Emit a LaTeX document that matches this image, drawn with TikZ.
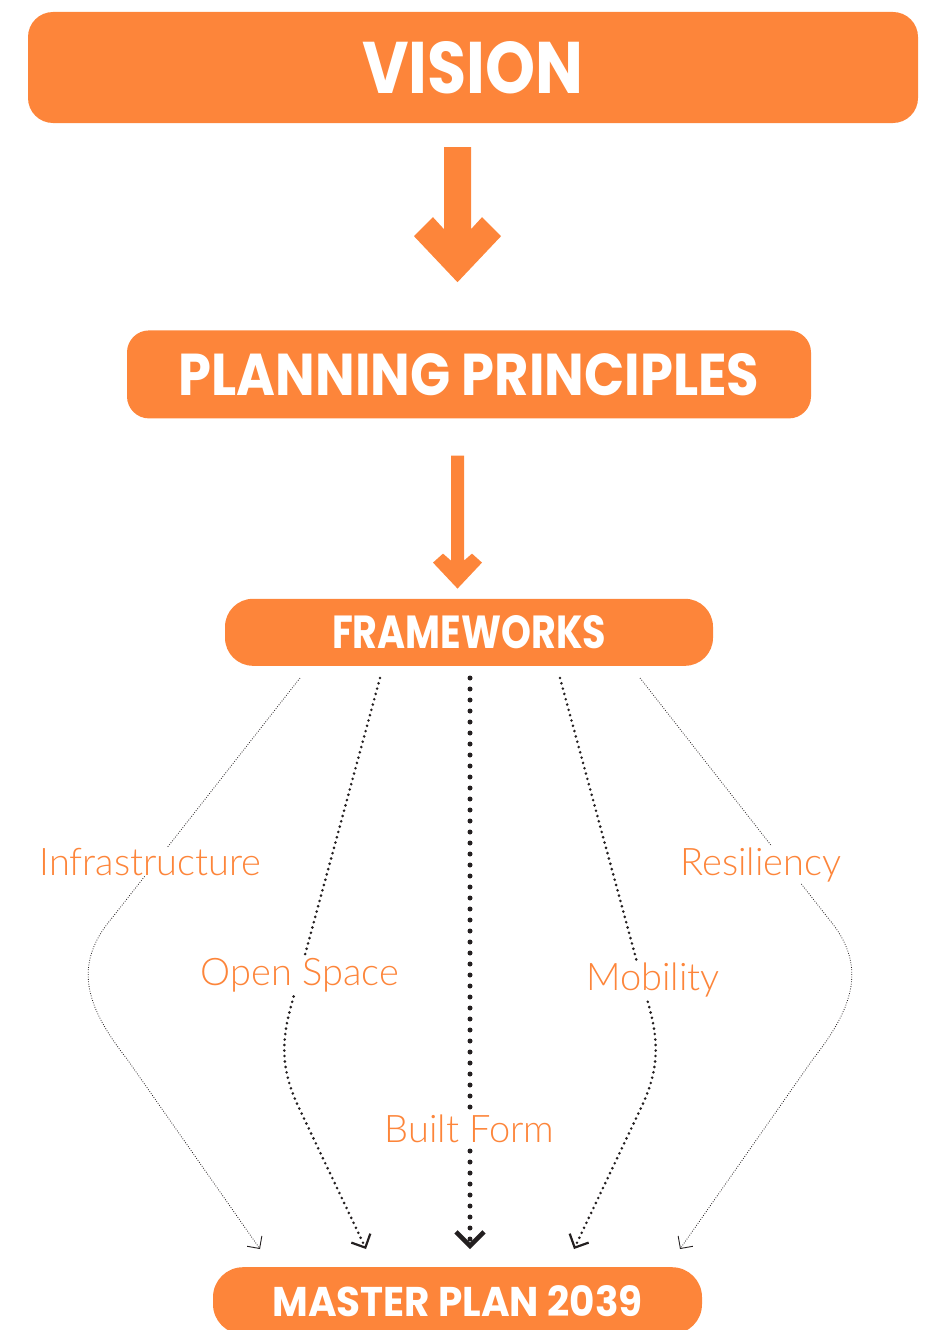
\documentclass[tikz,border=0pt]{standalone}
\usepackage{graphicx}
\usepackage{fontspec}
\setmainfont{Poppins}
\newfontfamily\labelfont{Lato Light}
\usetikzlibrary{arrows.meta,positioning,calc}
\definecolor{PlanOrange}{HTML}{FD853A}
\definecolor{PlanInk}{HTML}{231F20}

\begin{document}
\begin{tikzpicture}[
    x=1pt, y=-1pt,
    stage/.style={
      fill=PlanOrange,
      text=white,
      inner sep=0pt,
      font=\bfseries
    },
    theme/.style={
      text=PlanOrange,
      fill=white,
      inner sep=1pt,
      anchor=base,
      font=\labelfont\fontsize{38}{40}\selectfont
    },
    bigarrow/.style={fill=PlanOrange},
    finedots/.style={draw=PlanInk, line width=0.8pt, dash pattern=on 0.8pt off 1.6pt,
      -{Straight Barb[length=9pt,width=18pt,line width=0.9pt]}},
    dots/.style={draw=PlanInk, line width=2.9pt, line cap=round, dash pattern=on 0pt off 5.5pt,
      -{Straight Barb[length=10.5pt,width=21pt,line width=2.2pt]}},
    bigdots/.style={draw=PlanInk, line width=5pt, line cap=round, dash pattern=on 0pt off 11pt,
      -{Straight Barb[length=14pt,width=28pt,line width=4.5pt]}}
  ]
  \useasboundingbox (0,0) rectangle (930,1330);

  % stages
  \node[stage, minimum width=890pt, minimum height=111pt, rounded corners=25pt]
    (vision) at (473,67.5) {\resizebox{221pt}{52pt}{VISION}};
  \node[stage, below=207pt of vision, xshift=-4pt, minimum width=684pt, minimum height=88pt,
    rounded corners=22pt] (planning) {\resizebox{580pt}{42pt}{PLANNING PRINCIPLES}};
  \node[stage, below=180pt of planning, minimum width=488pt, minimum height=67pt,
    rounded corners=28pt] (frameworks) {\resizebox{274pt}{33pt}{FRAMEWORKS}};
  \node[stage, below=601pt of frameworks, xshift=-11.5pt, minimum width=489pt, minimum height=67pt,
    rounded corners=30pt] (master) {\resizebox{370pt}{31pt}{MASTER PLAN 2039}};

  % block arrows
  \coordinate (shaftA) at ($(vision.south)+(-15.5,24)$);
  \coordinate (shaftB) at ($(planning.south)+(-11.5,37)$);
  \fill[bigarrow] (shaftA) ++(-13.5,0) -- ++(27,0) -- ++(0,82) -- ++(11,-12) -- ++(19,19)
    -- ++(-43.5,46) -- ++(-43.5,-46) -- ++(19,-19) -- ++(11,12) -- cycle;
  \fill[bigarrow] (shaftB) ++(-6.5,0) -- ++(13,0) -- ++(0,105) -- ++(8,-7) -- ++(10,9)
    -- ++(-24.5,26) -- ++(-24.5,-26) -- ++(10,-9) -- ++(8,7) -- cycle;

  % framework connectors
  \coordinate (fInfra) at ($(frameworks.south)+(-169,12)$);
  \coordinate (fOpen) at ($(frameworks.south)+(-89,12)$);
  \coordinate (fBuilt) at ($(frameworks.south)+(1,12)$);
  \coordinate (fMobility) at ($(frameworks.south)+(91,12)$);
  \coordinate (fResil) at ($(frameworks.south)+(171,12)$);
  \coordinate (mInfra) at ($(master.north)+(-197.5,-18)$);
  \coordinate (mOpen) at ($(master.north)+(-91.5,-18)$);
  \coordinate (mBuilt) at ($(master.north)+(12.5,-18)$);
  \coordinate (mMobility) at ($(master.north)+(116.5,-18)$);
  \coordinate (mResil) at ($(master.north)+(222.5,-18)$);

  \draw[finedots] (fInfra) -- (112,918) .. controls (72,965) and (86,1007) .. (127,1059) -- (mInfra);
  \draw[dots] (fOpen) -- (290,1010) .. controls (280,1048) and (283,1075) .. (300,1110) -- (mOpen);
  \draw[bigdots] (fBuilt) -- (mBuilt);
  \draw[dots] (fMobility) -- (650,1010) .. controls (660,1048) and (657,1075) .. (640,1110) -- (mMobility);
  \draw[finedots] (fResil) -- (828,918) .. controls (868,965) and (854,1007) .. (813,1059) -- (mResil);

  % themes
  \node[theme] (infra) at (150.5,875) {Infrastructure};
  \node[theme] (open) at (300,985) {Open Space};
  \node[theme] (built) at (469.5,1142) {Built Form};
  \node[theme] (mobility) at (653,990) {Mobility};
  \node[theme] (resil) at (761,875) {Resiliency};
\end{tikzpicture}
\end{document}
